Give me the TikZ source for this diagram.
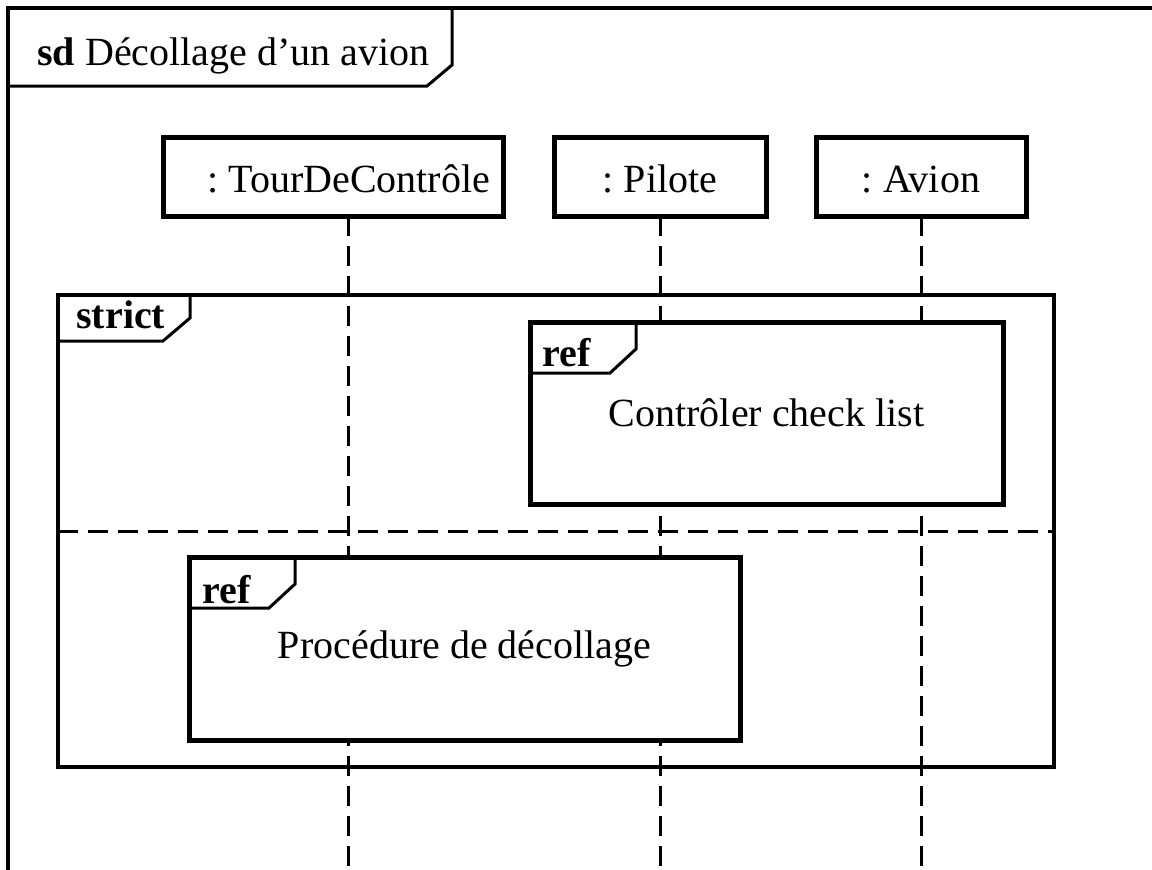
\documentclass[tikz,border=0pt]{standalone}
\usepackage{fontspec}
\setmainfont{Liberation Serif}
\usetikzlibrary{positioning}

\begin{document}
\begin{tikzpicture}[
  x=0.5pt, y=-0.5pt,
  font=\fontsize{20pt}{24pt}\selectfont,
  head/.style={rectangle, draw, line width=2.5pt, fill=white, outer sep=0pt,
               inner sep=0pt, minimum height=39.5pt, text height=18pt, text depth=2.5pt},
  refbox/.style={rectangle, draw, line width=2.5pt, fill=white, outer sep=0pt,
                 inner sep=0pt, align=center},
  frag/.style={rectangle, draw, line width=1.75pt, outer sep=0pt, inner sep=0pt},
  tabline/.style={draw, line width=1.5pt},
  life/.style={draw, line width=1.5pt, dash pattern=on 10pt off 5pt},
  sep/.style={draw, line width=1.5pt, dash pattern=on 10pt off 5pt},
  kw/.style={font=\fontsize{20pt}{24pt}\selectfont\bfseries, anchor=base west,
             inner sep=0pt},
  node distance=25pt
]
\useasboundingbox (0,0) rectangle (1152,869);

\node[frag, anchor=north west, minimum width=576pt, minimum height=436pt] (sdF) at (8,8) {};
\draw[tabline] ([shift={(0,78)}]sdF.north west) -- ++(419,0) -- ++(25,-21) -- ++(0,-57);
\node[anchor=base west, inner sep=0pt] (sdT) at ([shift={(29,57)}]sdF.north west)
  {\textbf{sd} Décollage d’un avion};

\node[head, text width=157pt, inner xsep=6.5pt, align=right] (tour) at (333,176.5) {:\kern.25em TourDeContrôle};
\node[head, minimum width=106pt, right=25.5pt of tour] (pilote) {:\kern.25em Pilote};
\node[head, minimum width=105pt, right=of pilote] (avion) {:\kern.25em Avion};

\coordinate (bottom) at (0,875);
\coordinate (tourL) at (348,875);
\draw[life] (tour.south -| tourL) -- (tourL);
\draw[life] (pilote.south) -- (pilote.south |- bottom);
\draw[life] (avion.south) -- (avion.south |- bottom);

\node[frag, minimum width=498pt, minimum height=236pt] (strictF) at (556,531) {};
\draw[sep] (strictF.west) -- (strictF.east);
\draw[tabline] ([shift={(0,46)}]strictF.north west) -- ++(105,0) -- ++(27,-23) -- ++(0,-23);
\node[kw] (strictT) at ([shift={(18,33)}]strictF.north west) {strict};

\node[refbox, minimum width=236.5pt, minimum height=91pt] (check) at (766.5,413) {Contrôler check list};
\draw[tabline] ([shift={(0,51)}]check.north west) -- ++(80,0) -- ++(26,-24) -- ++(0,-27);
\node[kw] (checkT) at ([shift={(12,44)}]check.north west) {ref};

\node[refbox, minimum width=275.5pt, minimum height=91.5pt] (proc) at (464.5,648.5) {Procédure de décollage};
\draw[tabline] ([shift={(0,51)}]proc.north west) -- ++(80,0) -- ++(26,-24) -- ++(0,-27);
\node[kw] (procT) at ([shift={(13,46)}]proc.north west) {ref};
\end{tikzpicture}
\end{document}
